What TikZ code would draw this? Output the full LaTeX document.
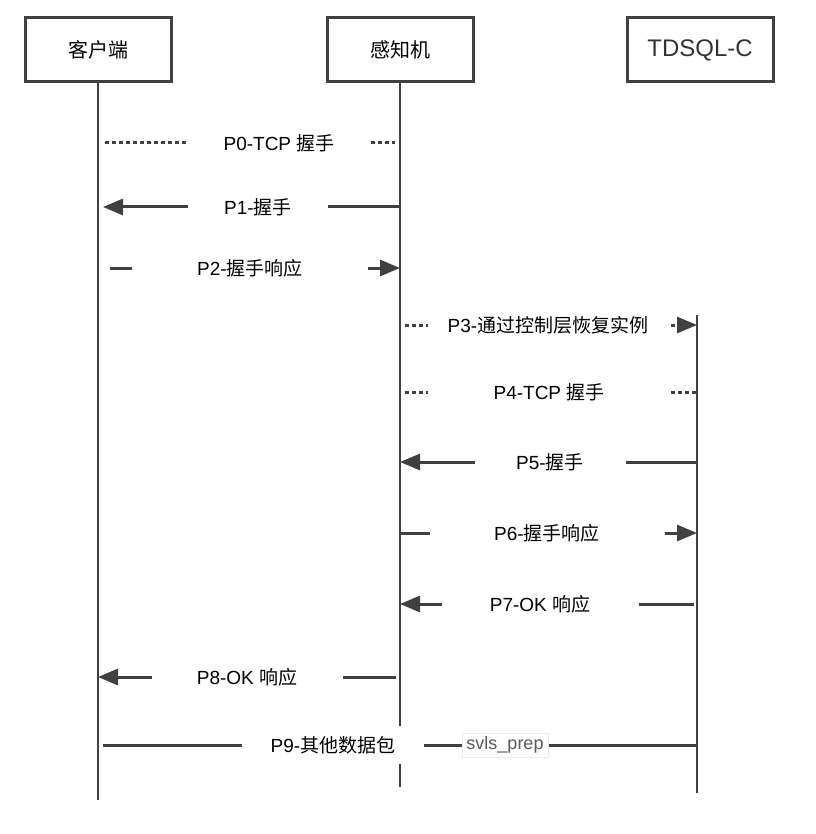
\documentclass[tikz,border=0pt]{standalone}
\usepackage{fontspec}
\setmainfont{Liberation Sans}
\newfontfamily\cjk{Noto Sans CJK SC}
\usetikzlibrary{arrows.meta}

\definecolor{linegray}{HTML}{404040}

\tikzset{
	actor/.style={draw=linegray, line width=3pt, minimum width=146pt, minimum height=64pt, font=\fontsize{20}{22}\selectfont\cjk},
	life/.style={draw=linegray, line width=2.5pt},
	msg/.style={draw=linegray, line width=3pt},
	tcp/.style={msg, dash pattern=on 4pt off 3pt},
	tip/.style={-{Triangle[length=20pt,width=16pt]}},
	lbl/.style={fill=white, minimum height=38pt, inner sep=0pt, font=\fontsize{19}{22}\selectfont},
}

\begin{document}
\begin{tikzpicture}[x=1pt, y=-1pt]
	\useasboundingbox (0,0) rectangle (815,834);
	
	% participants
	\node[actor] (client) at (98,50) {客户端};
	\node[actor] (sensor) at (400,50) {感知机};
	\node[actor, font=\fontsize{24}{26}\selectfont, text=black!80] (tdsql) at (700,50) {TDSQL-C};
	
	\coordinate (client-end) at (98,800);
	\coordinate (sensor-end) at (400,787);
	\coordinate (tdsql-top) at (697,315);
	\coordinate (tdsql-end) at (697,793);
	
	\draw[life] (client) -- (client-end);
	\draw[life] (sensor) -- (sensor-end);
	\draw[life] (tdsql-top) -- (tdsql-end);
	
	% messages
	\draw[tcp, shorten <=7pt, shorten >=5pt] (client |- 0,143) -- (sensor |- 0,143);
	\draw[msg, tip, shorten >=5pt] (sensor |- 0,207) -- (client |- 0,207);
	\draw[msg, tip, shorten <=12pt] (client |- 0,268) -- (sensor |- 0,268);
	\draw[tcp, tip, shorten <=5pt] (sensor |- 0,325) -- (tdsql-top |- 0,325);
	\draw[tcp, shorten <=5pt] (sensor |- 0,392) -- (tdsql-top |- 0,392);
	\draw[msg, tip] (tdsql-top |- 0,462) -- (sensor |- 0,462);
	\draw[msg, tip] (sensor |- 0,533) -- (tdsql-top |- 0,533);
	\draw[msg, tip, shorten <=3pt] (tdsql-top |- 0,604) -- (sensor |- 0,604);
	\draw[msg, tip, shorten <=4pt] (sensor |- 0,677) -- (client |- 0,677);
	\draw[msg, shorten <=5pt] (client |- 0,745) -- (tdsql-top |- 0,745);
	
	% labels
	\node[lbl, minimum width=182pt] (p0) at (279,143) {P0-TCP {\cjk 握手}};
	\node[lbl, minimum width=140pt] (p1) at (258,207) {P1-{\cjk 握手}};
	\node[lbl, minimum width=236pt] (p2) at (250,268) {P2-{\cjk 握手响应}};
	\node[lbl, minimum width=240pt] (p3) at (548,325) {P3-{\cjk 通过控制层恢复实例}};
	\node[lbl, minimum width=242pt] (p4) at (549,392) {P4-TCP {\cjk 握手}};
	\node[lbl, minimum width=151pt] (p5) at (550,462) {P5-{\cjk 握手}};
	\node[lbl, minimum width=235pt] (p6) at (547,533) {P6-{\cjk 握手响应}};
	\node[lbl, minimum width=197pt] (p7) at (540,604) {P7-OK {\cjk 响应}};
	\node[lbl, minimum width=191pt] (p8) at (247,677) {P8-OK {\cjk 响应}};
	\node[lbl, minimum width=182pt] (p9) at (333,745) {P9-{\cjk 其他数据包}};
	\node[draw=black!8, fill=white, text=black!65, inner sep=1pt, minimum width=86pt, minimum height=24pt, font=\fontsize{18}{20}\selectfont] (svls) at (505,745) {svls\_prep};
\end{tikzpicture}
\end{document}
